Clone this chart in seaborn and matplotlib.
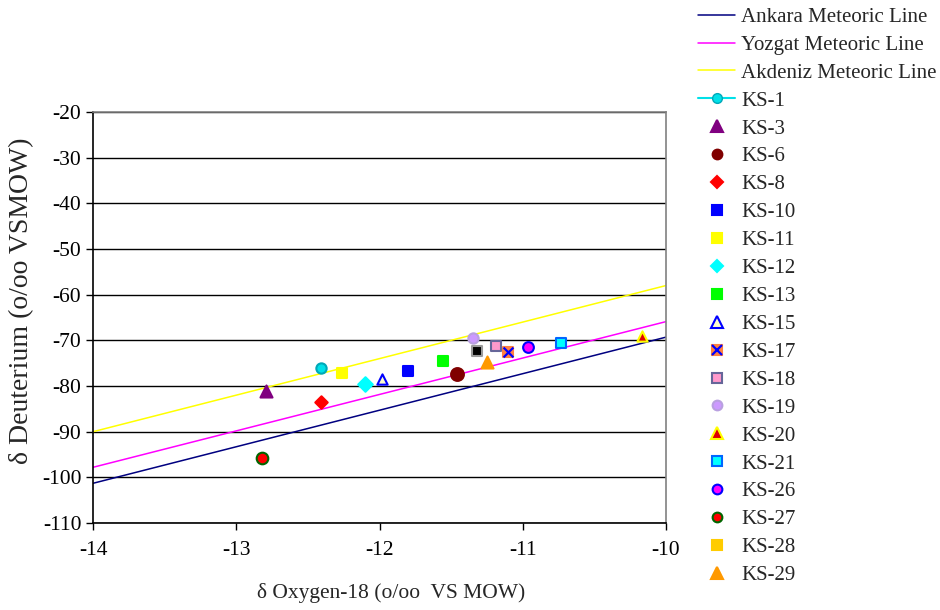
import numpy as np
import pandas as pd
import matplotlib.pyplot as plt
from matplotlib.lines import Line2D
import seaborn as sns

# Meteoric water lines, read at the two ends of the x axis
line_o18 = [-14, -10]
ankara_d = [-101.3, -69.3]
yozgat_d = [-97.8, -65.9]
akdeniz_d = [-90.0, -58.0]

# Sample isotope values
samples = ['KS-1', 'KS-3', 'KS-6', 'KS-8', 'KS-10', 'KS-11', 'KS-12', 'KS-13',
           'KS-15', 'KS-17', 'KS-18', 'KS-19', 'KS-20', 'KS-21', 'KS-26',
           'KS-27', 'KS-28', 'KS-29']
oxygen18 = [-12.41, -12.79, -11.46, -12.41, -11.80, -12.26, -12.10, -11.56,
            -11.98, -11.10, -11.19, -11.35, -10.17, -10.73, -10.96,
            -12.82, -11.32, -11.25]
deuterium = [-76.1, -81.0, -77.4, -83.6, -76.7, -77.2, -79.6, -74.5,
             -78.4, -72.5, -71.2, -69.4, -69.0, -70.6, -71.5,
             -95.8, -72.3, -74.8]

# marker, size (pt^2), face, edge
styles = {
    'KS-1': ('o', 55, '#00E0E8', '#00A8B8'),
    'KS-3': ('^', 75, '#800080', '#800080'),
    'KS-6': ('o', 85, '#800000', '#800000'),
    'KS-8': ('D', 40, '#FF0000', '#FF0000'),
    'KS-10': ('s', 50, '#0000FF', '#0000FF'),
    'KS-11': ('s', 55, '#FFFF00', '#FFFF00'),
    'KS-12': ('D', 55, '#00FFFF', '#00FFFF'),
    'KS-13': ('s', 55, '#00FF00', '#00FF00'),
    'KS-15': ('^', 55, '#FFFFCC', '#0000FF'),
    'KS-17': ('s', 55, '#FF8040', '#FF8040'),
    'KS-18': ('s', 45, '#FF99CC', '#666699'),
    'KS-19': ('o', 55, '#CC99FF', '#B9A0E0'),
    'KS-20': ('^', 55, '#E00000', '#FFFF00'),
    'KS-21': ('s', 50, '#00FFFF', '#0066FF'),
    'KS-26': ('o', 60, '#FF00FF', '#0000FF'),
    'KS-27': ('o', 70, '#FF0000', '#006600'),
    'KS-28': ('s', 45, '#000000', '#999999'),
    'KS-29': ('^', 75, '#FF9900', '#FF9900'),
}

df = pd.DataFrame({'sample': samples, 'o18': oxygen18, 'd2h': deuterium})

sns.set_style('white')
plt.rcParams['font.family'] = ['Liberation Serif', 'DejaVu Serif']
plt.rcParams['axes.unicode_minus'] = False

fig = plt.figure(figsize=(9.4, 6.1), dpi=100)
ax = fig.add_axes([0.099, 0.1426, 0.6095, 0.6738])

sns.lineplot(x=line_o18, y=ankara_d, color='#000080', lw=1.1, ax=ax)
sns.lineplot(x=line_o18, y=yozgat_d, color='#FF00FF', lw=1.1, ax=ax)
sns.lineplot(x=line_o18, y=akdeniz_d, color='#FFFF00', lw=1.1, ax=ax)

for _, row in df.iterrows():
    m, s, fc, ec = styles[row['sample']]
    sns.scatterplot(x=[row['o18']], y=[row['d2h']], marker=m, s=s, color=fc,
                    edgecolor=ec, linewidth=1.5, ax=ax, legend=False, zorder=3)
    if row['sample'] == 'KS-17':
        ax.scatter([row['o18']], [row['d2h']], marker='x', s=50,
                   color='#0000FF', linewidth=1.6, zorder=4)

ax.set_xlim(-14, -10)
ax.set_ylim(-110, -20)
ax.set_xticks(np.arange(-14, -9, 1))
ax.set_yticks(np.arange(-110, -10, 10))
ax.yaxis.grid(True, color='black', lw=1)
ax.set_axisbelow(True)
for side in ['left', 'bottom']:
    ax.spines[side].set_color('black')
    ax.spines[side].set_linewidth(1.2)
for side in ['top', 'right']:
    ax.spines[side].set_color('#808080')
    ax.spines[side].set_linewidth(1.2)
ax.tick_params(axis='both', direction='out', length=5, width=1,
               left=True, bottom=True, labelsize=15.5, colors='black')
ax.tick_params(axis='x', pad=8)

ax.set_xlabel('δ Oxygen-18 (o/oo  VS MOW)', fontsize=15.5)
ax.xaxis.set_label_coords(0.52, -0.145)
ax.set_ylabel('δ Deuterium (o/oo VSMOW)', fontsize=20)
ax.yaxis.set_label_coords(-0.103, 0.54)

# Legend
handles = [
    Line2D([], [], color='#000080', lw=1.1),
    Line2D([], [], color='#FF00FF', lw=1.1),
    Line2D([], [], color='#FFFF00', lw=1.1),
    Line2D([], [], color='#00E0E8', lw=1.5, marker='o', markersize=7,
           markerfacecolor='#00E0E8', markeredgecolor='#00A8B8'),
]
labels = ['Ankara Meteoric Line', 'Yozgat Meteoric Line', 'Akdeniz Meteoric Line', 'KS-1']
legend_sizes = {'o': 7, '^': 8, 'D': 6, 's': 6.5}
for name in samples[1:]:
    m, s, fc, ec = styles[name]
    if name == 'KS-28':
        fc, ec = '#FFCC00', '#FFCC00'
    h = Line2D([], [], ls='none', marker=m, markersize=legend_sizes[m],
               markerfacecolor=fc, markeredgecolor=ec, markeredgewidth=1.5)
    if name == 'KS-17':
        h = (h, Line2D([], [], ls='none', marker='x', markersize=7,
                       color='#0000FF', markeredgewidth=1.6))
    handles.append(h)
    labels.append(name)

fig.legend(handles, labels, loc='upper left', bbox_to_anchor=(0.7426, 0.988),
           frameon=False, fontsize=15, handlelength=1.78, handletextpad=0.29,
           labelspacing=0.40, borderpad=0, borderaxespad=0)

fig.savefig('out.png', dpi=100)
